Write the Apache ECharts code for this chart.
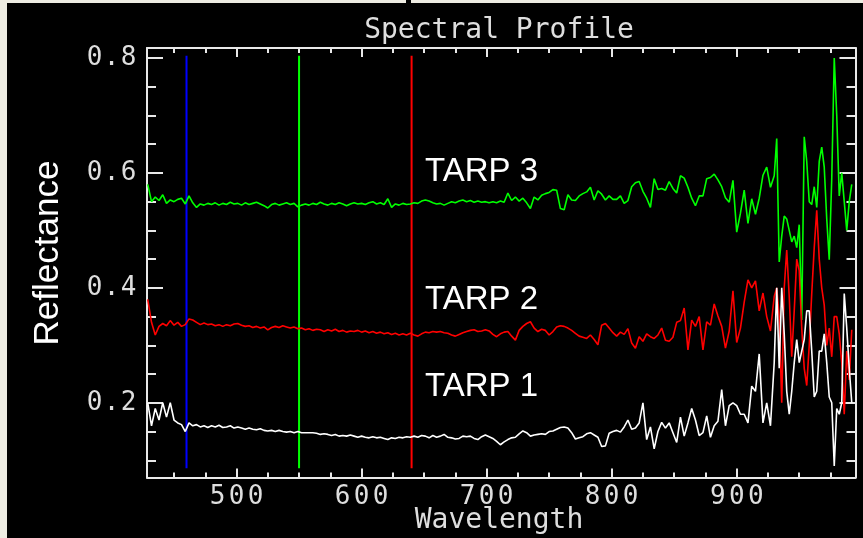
<!DOCTYPE html>
<html><head><meta charset="utf-8">
<script src="https://cdn.jsdelivr.net/npm/echarts@6/dist/echarts.min.js"></script>
<style>html,body{margin:0;padding:0;background:#000}#c{width:863px;height:538px}</style>
</head><body><div id="c"></div>
<script>
// ---- data ----
const wavelengths = [
429,432,435,438,441,444,447,450,453,456,459,462,465,468,471,474,477,480,483,486,489,492,495,498,
501,504,507,510,513,516,519,522,525,528,531,534,537,540,543,546,549,552,555,558,561,564,567,570,573,576,579,582,585,588,591,594,597,600,
603,606,609,612,615,618,621,624,627,630,633,636,639,642,645,648,651,654,657,660,663,666,669,672,675,678,681,684,687,690,693,696,699,
702,705,708,711,714,717,720,723,726,729,732,735,738,741,744,747,750,753,756,759,762,765,768,771,774,777,780,783,786,789,792,795,798,
801,804,807,810,813,816,819,822,825,828,831,834,837,840,843,846,849,852,855,858,861,864,867,870,873,876,879,882,885,888,891,894,897,900,
903,906,909,912,915,918,921,924,927,930,
932,934,936,938,940,942,944,946,948,950,952,954,956,958,960,962,964,966,968,970,972,974,976,978,980,982,984,986,988,990,992];

const tarp3 = [
0.580,0.550,0.558,0.552,0.562,0.547,0.553,0.550,0.554,0.556,0.546,0.560,0.548,0.540,0.546,0.544,0.547,0.545,0.548,0.544,0.547,0.545,0.549,0.546,
0.547,0.544,0.548,0.545,0.547,0.549,0.546,0.543,0.539,0.545,0.547,0.544,0.546,0.548,0.545,0.547,0.541,0.544,0.546,0.544,0.547,0.545,0.549,0.546,0.544,0.547,0.545,0.548,0.546,0.543,0.546,0.548,0.546,0.547,
0.545,0.548,0.550,0.546,0.548,0.545,0.555,0.540,0.546,0.544,0.547,0.545,0.546,0.548,0.547,0.551,0.553,0.551,0.548,0.546,0.547,0.544,0.547,0.550,0.548,0.551,0.553,0.550,0.552,0.549,0.551,0.549,0.550,
0.548,0.550,0.548,0.551,0.549,0.565,0.552,0.558,0.551,0.556,0.548,0.538,0.558,0.553,0.561,0.564,0.566,0.571,0.570,0.538,0.536,0.562,0.553,0.552,0.560,0.564,0.567,0.575,0.553,0.569,0.563,0.553,0.560,
0.554,0.554,0.560,0.547,0.552,0.576,0.583,0.585,0.568,0.556,0.540,0.590,0.571,0.573,0.570,0.585,0.573,0.565,0.595,0.591,0.575,0.556,0.543,0.560,0.560,0.590,0.592,0.598,0.588,0.576,0.557,0.549,0.587,0.497,
0.530,0.570,0.512,0.555,0.528,0.556,0.596,0.610,0.575,0.595,
0.660,0.445,0.490,0.525,0.520,0.500,0.480,0.490,0.470,0.510,0.344,0.663,0.620,0.550,0.545,0.576,0.540,0.620,0.645,0.610,0.520,0.449,0.590,0.800,0.700,0.560,0.600,0.550,0.500,0.550,0.580];

const tarp2 = [
0.380,0.340,0.318,0.333,0.338,0.334,0.343,0.335,0.340,0.333,0.336,0.346,0.344,0.340,0.336,0.339,0.336,0.337,0.334,0.336,0.333,0.336,0.334,0.337,
0.338,0.335,0.333,0.334,0.331,0.333,0.330,0.332,0.327,0.331,0.333,0.331,0.334,0.332,0.330,0.332,0.329,0.330,0.327,0.329,0.326,0.328,0.327,0.324,0.327,0.325,0.328,0.324,0.326,0.323,0.325,0.324,0.326,0.323,
0.325,0.322,0.324,0.321,0.323,0.320,0.322,0.319,0.321,0.318,0.320,0.318,0.321,0.318,0.316,0.320,0.323,0.322,0.324,0.323,0.324,0.322,0.321,0.318,0.316,0.319,0.322,0.324,0.326,0.327,0.324,0.325,0.327,
0.325,0.319,0.315,0.320,0.323,0.324,0.316,0.309,0.326,0.333,0.338,0.341,0.330,0.324,0.328,0.326,0.318,0.324,0.332,0.334,0.333,0.330,0.326,0.321,0.316,0.314,0.312,0.318,0.310,0.301,0.335,0.338,0.330,
0.322,0.316,0.323,0.319,0.329,0.304,0.295,0.315,0.307,0.320,0.315,0.312,0.318,0.330,0.309,0.307,0.314,0.340,0.343,0.365,0.292,0.344,0.333,0.350,0.292,0.341,0.335,0.372,0.351,0.333,0.295,0.325,0.395,0.305,
0.330,0.375,0.414,0.400,0.412,0.360,0.391,0.350,0.325,0.385,
0.400,0.350,0.200,0.400,0.466,0.385,0.280,0.360,0.450,0.430,0.330,0.260,0.230,0.300,0.390,0.470,0.535,0.450,0.400,0.370,0.300,0.330,0.280,0.350,0.350,0.320,0.270,0.180,0.290,0.240,0.327];

const tarp1 = [
0.200,0.160,0.190,0.170,0.200,0.175,0.200,0.170,0.165,0.162,0.150,0.165,0.160,0.162,0.158,0.160,0.157,0.160,0.158,0.161,0.157,0.158,0.160,0.156,
0.158,0.156,0.154,0.156,0.154,0.153,0.155,0.152,0.151,0.152,0.150,0.152,0.150,0.149,0.150,0.148,0.150,0.148,0.148,0.148,0.148,0.147,0.145,0.146,0.145,0.143,0.145,0.142,0.143,0.142,0.144,0.142,0.140,0.142,
0.140,0.139,0.141,0.139,0.140,0.138,0.136,0.139,0.138,0.140,0.139,0.141,0.140,0.142,0.140,0.143,0.142,0.139,0.143,0.140,0.142,0.145,0.140,0.139,0.137,0.138,0.142,0.141,0.142,0.138,0.136,0.141,0.144,
0.141,0.138,0.133,0.127,0.132,0.136,0.139,0.140,0.146,0.151,0.148,0.142,0.144,0.145,0.146,0.145,0.150,0.151,0.154,0.157,0.158,0.156,0.148,0.137,0.139,0.141,0.146,0.148,0.144,0.140,0.124,0.125,0.147,
0.150,0.152,0.149,0.158,0.170,0.154,0.156,0.165,0.200,0.136,0.158,0.120,0.150,0.166,0.156,0.165,0.148,0.131,0.175,0.142,0.165,0.190,0.170,0.143,0.148,0.177,0.140,0.160,0.168,0.223,0.160,0.195,0.200,0.195,
0.180,0.180,0.165,0.229,0.220,0.285,0.165,0.200,0.160,0.270,
0.400,0.260,0.400,0.320,0.220,0.180,0.220,0.270,0.310,0.270,0.290,0.310,0.360,0.360,0.290,0.210,0.220,0.290,0.290,0.320,0.270,0.210,0.200,0.090,0.190,0.180,0.200,0.390,0.330,0.260,0.200];

const markerWavelengths = [460, 550, 640];
const markerRange = [0.086, 0.804];
const seriesNames = ['TARP 1', 'TARP 2', 'TARP 3'];
const xMajorTicks = [500, 600, 700, 800, 900];
const xMinorTicks = [450,475,500,525,550,575,600,625,650,675,700,725,750,775,800,825,850,875,900,925,950,975];
const yMajorTicks = [0.2, 0.4, 0.6, 0.8];
const yMinorTicks = [0.1,0.15,0.2,0.25,0.3,0.35,0.4,0.45,0.5,0.55,0.6,0.65,0.7,0.75,0.8];

// ---- styling ----
const xMin = 428.4, xMax = 995.0, yMin = 0.07, yMax = 0.8174;
const frame = '#e8e8e8';
const txt = '#dedede';
const mono = 'DejaVu Sans Mono';
const beige = '#EEECE2';
const markerColors = ['#0000ff', '#00ff00', '#ff0000'];

function cells(s){ return s.split('').map(c => '{d|' + c + '}').join(''); }

function xAx(pos, major, showLine){
  return {type:'value', min:xMin, max:xMax, position:pos,
    axisLine:{show:showLine, onZero:false, lineStyle:{color:frame, width:2}},
    axisTick:{show:true, inside:true, length: major ? 9 : 5, customValues: major ? xMajorTicks : xMinorTicks, lineStyle:{color:frame, width:2}},
    axisLabel:(pos==='bottom' && major) ? {show:true, customValues:xMajorTicks, margin:7,
      formatter:v => cells(String(Math.round(v))),
      rich:{d:{width:19, align:'center', fontFamily:mono, fontSize:26, color:txt}}} : {show:false},
    splitLine:{show:false}};
}
function yAx(pos, major, showLine){
  return {type:'value', min:yMin, max:yMax, position:pos,
    axisLine:{show:showLine, onZero:false, lineStyle:{color:frame, width:2}},
    axisTick:{show:true, inside:true, length: major ? 16 : 9, customValues: major ? yMajorTicks : yMinorTicks, lineStyle:{color:frame, width:2}},
    axisLabel:(pos==='left' && major) ? {show:true, customValues:yMajorTicks, margin:10, padding:[1,0,0,0],
      formatter:v => cells(v.toFixed(1)),
      rich:{d:{width:17, align:'center', fontFamily:mono, fontSize:26, color:txt}}} : {show:false},
    splitLine:{show:false}};
}

const series = [];
markerWavelengths.forEach((w, i) => {
  series.push({type:'line', xAxisIndex:0, yAxisIndex:0, data:[[w, markerRange[0]], [w, markerRange[1]]],
    showSymbol:false, symbol:'none', lineStyle:{color:markerColors[i], width:2}, z:1, silent:true});
});
const spectra = [tarp3, tarp2, tarp1];
const specColors = ['#00ff00', '#ff0000', '#ffffff'];
const specNames = ['TARP 3', 'TARP 2', 'TARP 1'];
spectra.forEach((arr, i) => {
  series.push({type:'line', name:specNames[i], xAxisIndex:0, yAxisIndex:0,
    data: wavelengths.map((w, j) => [w, arr[j]]),
    showSymbol:false, symbol:'none', sampling:null,
    lineStyle:{color:specColors[i], width:1.6}, z:2 + i, silent:true});
});

function label(text, x, y, size, family){
  return {type:'text', x:x, y:y, silent:true,
    style:{text:text, fontSize:size, fontFamily:family, fill:'#ffffff',
      align:'left', verticalAlign:'middle', textAlign:'left', textVerticalAlign:'middle'}};
}

const option = {
  backgroundColor:'#000000',
  animation:false,
  grid:{left:147, top:48, width:708.5, height:429.5, containLabel:false, outerBoundsMode:'none'},
  xAxis:[xAx('bottom', true, true), xAx('bottom', false, false), xAx('top', true, true), xAx('top', false, false)],
  yAxis:[yAx('left', true, true), yAx('left', false, false), yAx('right', true, true), yAx('right', false, false)],
  series: series,
  graphic:[
    {type:'rect', shape:{x:0, y:0, width:7, height:538}, style:{fill:beige}, silent:true},
    {type:'rect', shape:{x:0, y:0, width:863, height:3}, style:{fill:beige}, silent:true},
    {type:'rect', shape:{x:406, y:0, width:5, height:3}, style:{fill:'#000'}, silent:true},
    {type:'text', x:499, y:31, silent:true, style:{text:'Spectral Profile', fontSize:28, fontFamily:mono, fill:txt, align:'center', verticalAlign:'middle', textAlign:'center', textVerticalAlign:'middle'}},
    {type:'text', x:499, y:521, silent:true, style:{text:'Wavelength', fontSize:28, fontFamily:mono, fill:txt, align:'center', verticalAlign:'middle', textAlign:'center', textVerticalAlign:'middle'}},
    {type:'text', x:48, y:253, rotation:Math.PI/2, silent:true, style:{text:'Reflectance', fontSize:35, fontFamily:'Liberation Sans', fill:'#ffffff', align:'center', verticalAlign:'middle', textAlign:'center', textVerticalAlign:'middle'}},
    label(seriesNames[2], 425, 172, 33, 'Liberation Sans'),
    label(seriesNames[1], 425, 300, 33, 'Liberation Sans'),
    label(seriesNames[0], 425, 387, 33, 'Liberation Sans')
  ]
};

const chart = echarts.init(document.getElementById('c'), null, {renderer:'canvas'});
chart.setOption(option);
</script></body></html>
